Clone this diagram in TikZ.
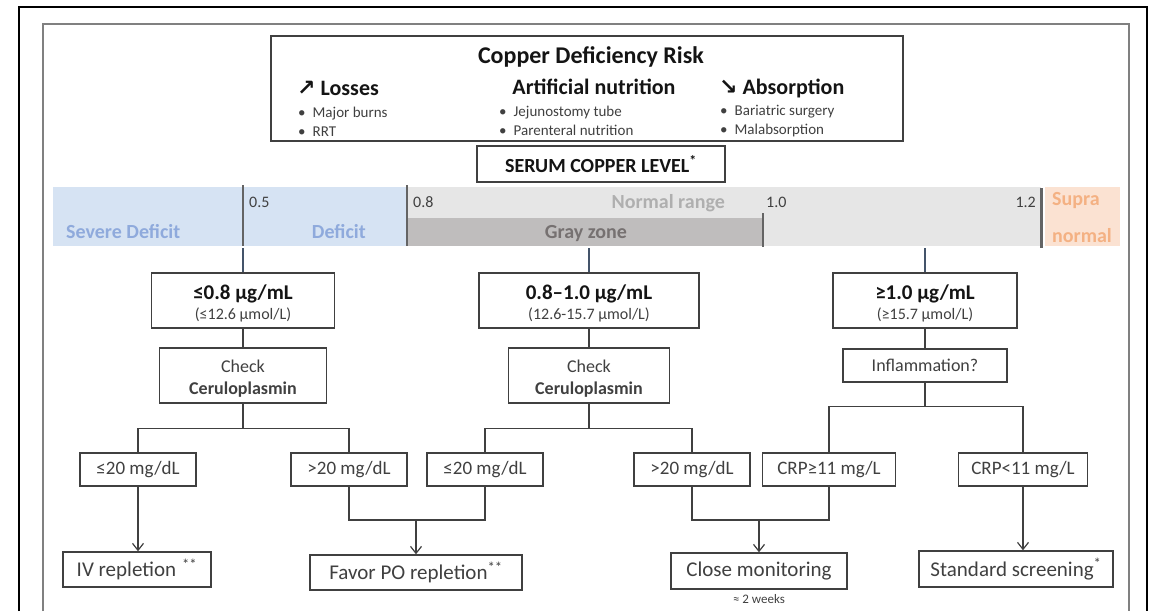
\documentclass[tikz,border=0pt]{standalone}
\usepackage{fontspec}
\setmainfont{Carlito}
\newfontfamily\arrowfont{DejaVu Sans}
\usepackage{xcolor}
\usetikzlibrary{arrows.meta, positioning, calc}

\definecolor{boxline}{RGB}{64,64,64}
\definecolor{txtdark}{RGB}{20,20,20}
\definecolor{txtgray}{RGB}{64,64,64}
\definecolor{defblue}{RGB}{214,227,243}
\definecolor{deftext}{RGB}{143,170,220}
\definecolor{normgray}{RGB}{230,230,230}
\definecolor{normtext}{RGB}{175,175,175}
\definecolor{zonegray}{RGB}{191,189,189}
\definecolor{zonetext}{RGB}{118,113,113}
\definecolor{supfill}{RGB}{251,226,210}
\definecolor{suptext}{RGB}{244,177,131}
\definecolor{tickgray}{RGB}{100,100,100}
\definecolor{stemblue}{RGB}{68,84,106}
\definecolor{framegray}{RGB}{128,128,128}

\newcommand{\setfs}[1]{\fontsize{#1}{#1}\selectfont}

\begin{document}
\begin{tikzpicture}[x=1pt, y=-1pt,
  box/.style={draw=boxline, line width=1.4pt, fill=white, inner sep=0pt, align=center, text=txtgray},
  lvlbox/.style={box, minimum height=55pt, font=\fontsize{16}{20}\selectfont},
  chkbox/.style={box, minimum height=55pt, font=\fontsize{18}{22}\selectfont},
  leafbox/.style={box, minimum height=33pt, font=\setfs{19}},
  endbox/.style={box, minimum height=35pt, font=\setfs{21}},
  link/.style={draw=boxline, line width=1.4pt},
  arr/.style={link, -{Straight Barb[length=7pt, width=11pt, line width=1.2pt]}},
  stem/.style={draw=stemblue, line width=1.1pt},
  tick/.style={draw=tickgray, line width=2.4pt},
  scalenum/.style={text=txtgray, font=\setfs{16}, inner sep=0pt},
  zonelbl/.style={font=\bfseries\setfs{20}, inner sep=0pt},
  head/.style={text=txtdark, font=\bfseries\setfs{22}, inner sep=0pt},
  itemtxt/.style={text=txtgray, font=\setfs{15}, inner sep=0pt, anchor=base west}]
\useasboundingbox (0,0) rectangle (1153,611);

% frames
\draw[line width=2pt, black] (19,611) -- (19,7) -- (1147,7) -- (1147,611);
\draw[line width=2pt, framegray] (43,611) -- (43,24) -- (1129,24) -- (1129,611);

% risk box
\node[draw=boxline, line width=1.5pt, minimum width=632pt, minimum height=105pt, inner sep=0pt] (risk) at (587,88.5) {};
\node[text=txtdark, font=\bfseries\setfs{24}, inner sep=0pt, anchor=base] (riskttl) at (591,63) {Copper Deficiency Risk};
\node[head, anchor=base west] (losses) at (297,95) {{\arrowfont ↗}\hspace{5pt}Losses};
\node[head, anchor=base] (artif) at (594,94) {Artificial nutrition};
\node[head, anchor=base west] (absorb) at (719,94) {{\arrowfont ↘}\hspace{5pt}Absorption};
\foreach \n/\x/\y/\txt in {burns/298/117/Major burns, rrt/298/136/RRT,
    jejuno/499/116/Jejunostomy tube, parent/499/135/Parenteral nutrition,
    bariat/720/115/Bariatric surgery, malabs/720/134/Malabsorption}
  \node[itemtxt] (\n) at (\x,\y) {\textbullet\hspace{7pt}\txt};

\node[box, text=txtdark, font=\bfseries\setfs{20}, minimum width=248pt, minimum height=36pt] (serum) at (601,164) {SERUM COPPER LEVEL\textsuperscript{*}};

% scale bar
\fill[defblue] (53,187) rectangle (407,246);
\fill[normgray] (407,187) rectangle (1041,246);
\fill[zonegray] (407,218) rectangle (763,246);
\fill[supfill] (1045,187) rectangle (1120,246);
\draw[tick] (243,185) -- (243,246);
\draw[tick] (407,185) -- (407,246);
\draw[tick] (763,213) -- (763,247);
\draw[tick] (1041.5,188) -- (1041.5,248);
\node[scalenum, anchor=west] (n05) at (249,202) {0.5};
\node[scalenum, anchor=west] (n08) at (413,202) {0.8};
\node[scalenum, anchor=west] (n10) at (766,202) {1.0};
\node[scalenum, anchor=east] (n12) at (1036,202) {1.2};
\node[zonelbl, text=normtext, anchor=east] (normal) at (725,203) {Normal range};
\node[zonelbl, text=deftext, anchor=west] (severe) at (66,232) {Severe Deficit};
\node[zonelbl, text=deftext, anchor=east] (deficit) at (366,232) {Deficit};
\node[zonelbl, text=zonetext] (grayz) at (586,234) {Gray zone};
\node[zonelbl, text=suptext, anchor=west] (supra) at (1052,201) {Supra};
\node[zonelbl, text=suptext, anchor=west] (supnorm) at (1052,236) {normal};

\coordinate (tA) at (243,248);
\coordinate (tB) at (589,248);
\coordinate (tC) at (925,248);

% level boxes
\node[lvlbox, minimum width=183pt] (lvlA) at (243,300.5) {\rule{0pt}{21pt}{\bfseries\setfs{21}\color{txtdark}≤0.8 µg/mL}\\(≤12.6 µmol/L)};
\node[lvlbox, minimum width=220pt] (lvlB) at (589,300.5) {\rule{0pt}{21pt}{\bfseries\setfs{21}\color{txtdark}0.8–1.0 µg/mL}\\(12.6-15.7 µmol/L)};
\node[lvlbox, minimum width=184pt] (lvlC) at (925,300.5) {\rule{0pt}{21pt}{\bfseries\setfs{21}\color{txtdark}≥1.0 µg/mL}\\(≥15.7 µmol/L)};

\node[chkbox, minimum width=167pt] (chkA) at (243,375.5) {\rule{0pt}{18pt}Check\\\textbf{Ceruloplasmin}};
\node[chkbox, minimum width=161pt] (chkB) at (589,375.5) {\rule{0pt}{18pt}Check\\\textbf{Ceruloplasmin}};
\node[box, font=\setfs{18}, minimum width=164pt, minimum height=33pt] (inflam) at (925,365.5) {Inflammation?};

% leaves
\node[leafbox, minimum width=116pt] (lfA1) at (138,469.5) {≤20 mg/dL};
\node[leafbox, minimum width=116pt] (lfA2) at (349,469.5) {>20 mg/dL};
\node[leafbox, minimum width=116pt] (lfB1) at (485,469.5) {≤20 mg/dL};
\node[leafbox, minimum width=116pt] (lfB2) at (692,469.5) {>20 mg/dL};
\node[leafbox, minimum width=133pt] (lfC1) at (829,469.5) {CRP≥11 mg/L};
\node[leafbox, minimum width=129pt] (lfC2) at (1023,469.5) {CRP<11 mg/L};

% outcomes
\node[endbox, minimum width=148pt] (finIV) at (137,569.5) {IV repletion\hspace{6pt}\textsuperscript{**}};
\node[endbox, minimum width=212pt] (finPO) at (416,572.5) {Favor PO repletion\textsuperscript{**}};
\node[endbox, minimum width=176pt, minimum height=36pt] (finMon) at (759,571) {Close monitoring};
\node[endbox, minimum width=194pt, minimum height=36pt] (finStd) at (1016,569) {Standard screening\textsuperscript{*}};
\node[font=\setfs{13}, text=txtgray, inner sep=0pt, below=5pt of finMon] (twowk) {≈ 2 weeks};

% connectors
\draw[stem] (tA) -- (lvlA.north);
\draw[stem] (tB) -- (lvlB.north);
\draw[stem] (tC) -- (lvlC.north);
\draw[link] (lvlA) -- (chkA);
\draw[link] (lvlB) -- (chkB);
\draw[link] (lvlC) -- (inflam);
\draw[link] (chkA.south) -- ++(0,25) coordinate (brA);
\draw[link] (lfA1.north) |- (brA) -| (lfA2.north);
\draw[link] (chkB.south) -- ++(0,25) coordinate (brB);
\draw[link] (lfB1.north) |- (brB) -| (lfB2.north);
\draw[link] (inflam.south) -- ++(0,24) coordinate (brC);
\draw[link] (lfC1.north) |- (brC) -| (lfC2.north);

\coordinate (jPO) at (416,520);
\coordinate (jMon) at (759,520);
\draw[arr] (lfA1.south) -- (lfA1.south |- finIV.north);
\draw[link] (lfA2.south) |- (jPO) -| (lfB1.south);
\draw[arr] (jPO) -- (finPO.north);
\draw[link] (lfB2.south) |- (jMon) -| (lfC1.south);
\draw[arr] (jMon) -- (finMon.north);
\draw[arr] (lfC2.south) -- (lfC2.south |- finStd.north);
\end{tikzpicture}
\end{document}
